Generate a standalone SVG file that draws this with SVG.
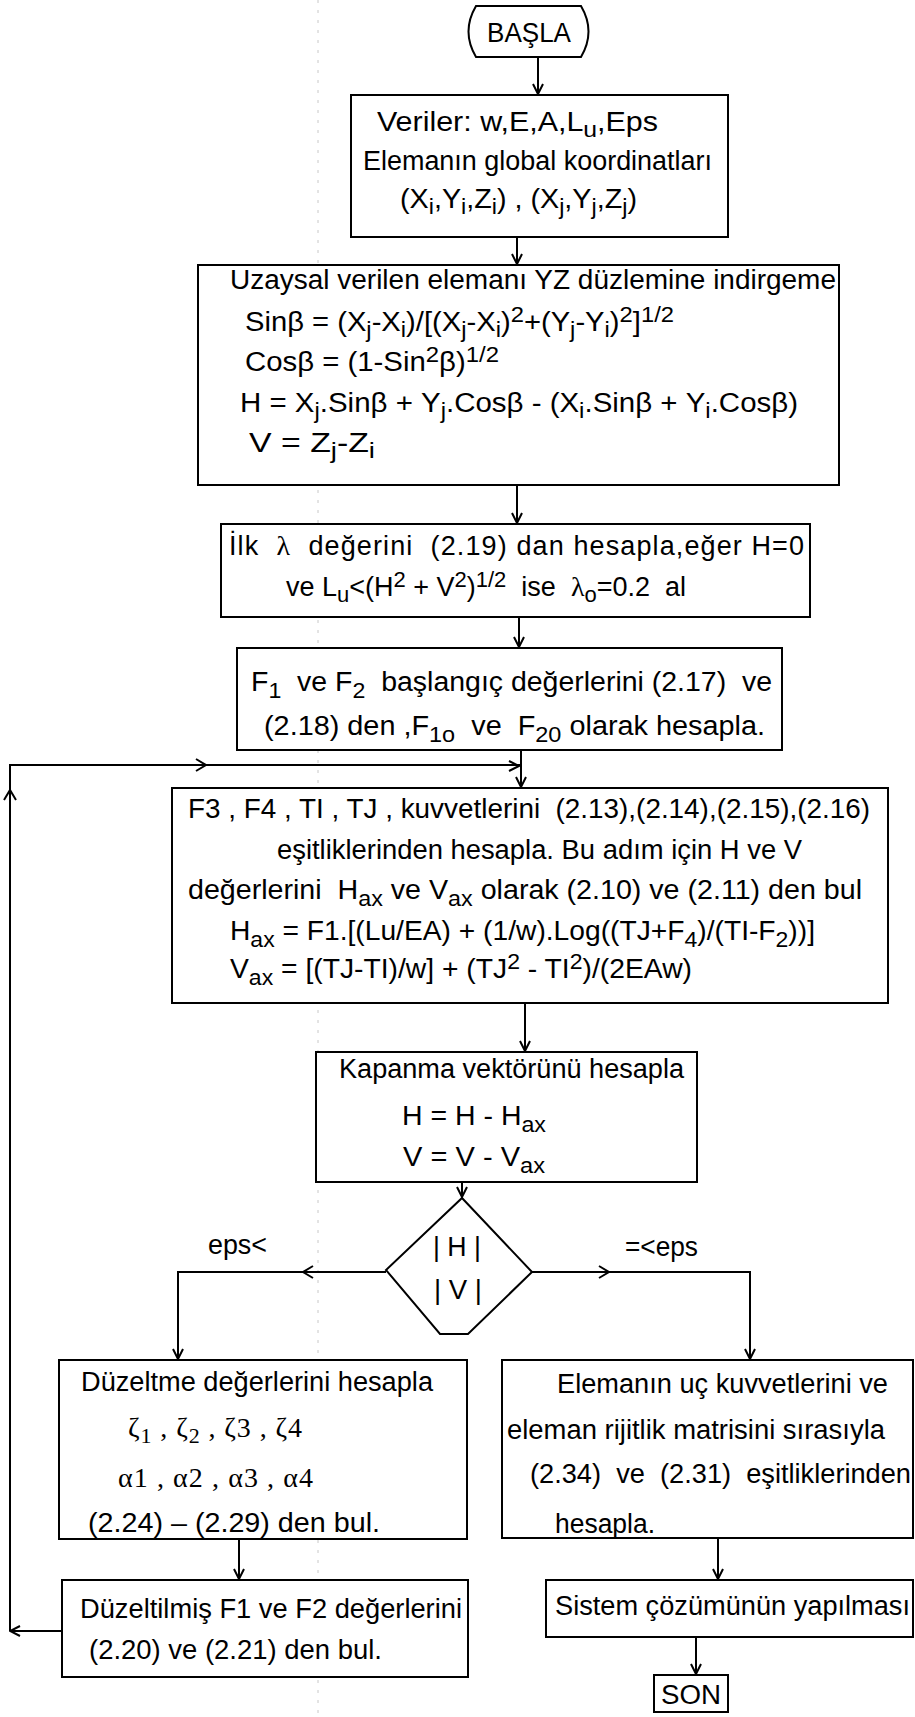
<svg xmlns="http://www.w3.org/2000/svg" width="915" height="1717" viewBox="0 0 915 1717">
<style>
.box{fill:#fff;stroke:#000;stroke-width:2}
.t{font-family:"Liberation Sans",Arial,sans-serif;font-size:27px;fill:#000}
.s{font-family:"Liberation Serif","Times New Roman",serif;font-size:28px;fill:#000}
.b{font-size:22px}
.ln{fill:none;stroke:#000;stroke-width:2}
.hd{fill:none;stroke:#000;stroke-width:2;stroke-linejoin:miter}
.fold{fill:none;stroke:#c8c8c8;stroke-width:1;stroke-dasharray:3 7}
</style>
<defs>
<marker id="ah" viewBox="0 0 12 12" refX="11" refY="6" markerWidth="12" markerHeight="12" markerUnits="userSpaceOnUse" orient="auto">
<path d="M1,1 L11,6 L1,11" fill="none" stroke="#000" stroke-width="2"/>
</marker>
</defs>
<rect width="915" height="1717" fill="#fff"/>
<line class="fold" x1="318" y1="0" x2="318" y2="1717"/>

<g id="connectors">
<path class="ln" d="M538,57 V94" marker-end="url(#ah)"/>
<path class="ln" d="M517,237 V264" marker-end="url(#ah)"/>
<path class="ln" d="M517,485 V523" marker-end="url(#ah)"/>
<path class="ln" d="M519,617 V647" marker-end="url(#ah)"/>
<path class="ln" d="M521,750 V787" marker-end="url(#ah)"/>
<path class="ln" d="M525,1003 V1051" marker-end="url(#ah)"/>
<path class="ln" d="M462,1182 V1197" marker-end="url(#ah)"/>
<path class="ln" d="M386,1272 H178 V1359" marker-end="url(#ah)"/>
<path class="hd" d="M313,1266 L303,1272 L313,1278"/>
<path class="ln" d="M532,1272 H750 V1359" marker-end="url(#ah)"/>
<path class="hd" d="M599,1266 L609,1272 L599,1278"/>
<path class="ln" d="M239,1539 V1579" marker-end="url(#ah)"/>
<path class="ln" d="M718,1538 V1579" marker-end="url(#ah)"/>
<path class="ln" d="M696,1637 V1674" marker-end="url(#ah)"/>
<path class="ln" d="M62,1631 H10" marker-end="url(#ah)"/>
<path class="ln" d="M10,1631 V765 H521"/>
<path class="hd" d="M4,800 L10,790 L16,800"/>
<path class="hd" d="M196,759 L206,765 L196,771"/>
<path class="hd" d="M509,761 L519,766 L509,771"/>
</g>

<g id="basla">
<path class="box" d="M476,6 H581 Q596,31.5 581,57 H476 Q461,31.5 476,6 Z"/>
<text class="t" x="487" y="42" textLength="84" lengthAdjust="spacingAndGlyphs">BAŞLA</text>
</g>

<g id="veriler">
<rect class="box" x="351" y="95" width="377" height="142"/>
<text class="t" x="377" y="131" textLength="281" lengthAdjust="spacingAndGlyphs">Veriler: w,E,A,L<tspan class="b" dy="6">u</tspan><tspan dy="-6">,Eps</tspan></text>
<text class="t" x="363" y="170" textLength="349" lengthAdjust="spacingAndGlyphs">Elemanın global koordinatları</text>
<text class="t" x="400" y="208" textLength="237" lengthAdjust="spacingAndGlyphs">(X<tspan class="b" dy="6">i</tspan><tspan dy="-6">,Y</tspan><tspan class="b" dy="6">i</tspan><tspan dy="-6">,Z</tspan><tspan class="b" dy="6">i</tspan><tspan dy="-6">) , (X</tspan><tspan class="b" dy="6">j</tspan><tspan dy="-6">,Y</tspan><tspan class="b" dy="6">j</tspan><tspan dy="-6">,Z</tspan><tspan class="b" dy="6">j</tspan><tspan dy="-6">)</tspan></text>
</g>

<g id="uzaysal">
<rect class="box" x="198" y="265" width="641" height="220"/>
<text class="t" x="230" y="289" textLength="606" lengthAdjust="spacingAndGlyphs">Uzaysal verilen elemanı YZ düzlemine indirgeme</text>
<text class="t" x="245" y="331" textLength="429" lengthAdjust="spacingAndGlyphs">Sinβ = (X<tspan class="b" dy="6">j</tspan><tspan dy="-6">-X</tspan><tspan class="b" dy="6">i</tspan><tspan dy="-6">)/[(X</tspan><tspan class="b" dy="6">j</tspan><tspan dy="-6">-X</tspan><tspan class="b" dy="6">i</tspan><tspan dy="-6">)</tspan><tspan class="b" dy="-9">2</tspan><tspan dy="9">+(Y</tspan><tspan class="b" dy="6">j</tspan><tspan dy="-6">-Y</tspan><tspan class="b" dy="6">i</tspan><tspan dy="-6">)</tspan><tspan class="b" dy="-9">2</tspan><tspan dy="9">]</tspan><tspan class="b" dy="-9">1/2</tspan></text>
<text class="t" x="245" y="371" textLength="254" lengthAdjust="spacingAndGlyphs">Cosβ = (1-Sin<tspan class="b" dy="-9">2</tspan><tspan dy="9">β)</tspan><tspan class="b" dy="-9">1/2</tspan></text>
<text class="t" x="240" y="412" textLength="558" lengthAdjust="spacingAndGlyphs">H = X<tspan class="b" dy="6">j</tspan><tspan dy="-6">.Sinβ + Y</tspan><tspan class="b" dy="6">j</tspan><tspan dy="-6">.Cosβ - (X</tspan><tspan class="b" dy="6">i</tspan><tspan dy="-6">.Sinβ + Y</tspan><tspan class="b" dy="6">i</tspan><tspan dy="-6">.Cosβ)</tspan></text>
<text class="t" x="249" y="452" textLength="126" lengthAdjust="spacingAndGlyphs">V = Z<tspan class="b" dy="6">j</tspan><tspan dy="-6">-Z</tspan><tspan class="b" dy="6">i</tspan></text>
</g>

<g id="ilk">
<rect class="box" x="221" y="524" width="589" height="93"/>
<text class="t" x="229" y="555" textLength="575" xml:space="preserve">İlk  <tspan class="s">λ</tspan>  değerini  (2.19) dan hesapla,eğer H=0</text>
<text class="t" x="286" y="596" textLength="400" lengthAdjust="spacingAndGlyphs" xml:space="preserve">ve L<tspan class="b" dy="6">u</tspan><tspan dy="-6">&lt;(H</tspan><tspan class="b" dy="-9">2</tspan><tspan dy="9"> + V</tspan><tspan class="b" dy="-9">2</tspan><tspan dy="9">)</tspan><tspan class="b" dy="-9">1/2</tspan><tspan dy="9">  ise  </tspan><tspan class="s">λ</tspan><tspan class="b" dy="6">o</tspan><tspan dy="-6">=0.2  al</tspan></text>
</g>

<g id="f1f2">
<rect class="box" x="237" y="648" width="545" height="102"/>
<text class="t" x="251" y="691" textLength="521" lengthAdjust="spacingAndGlyphs" xml:space="preserve">F<tspan class="b" dy="7">1</tspan><tspan dy="-7">  ve F</tspan><tspan class="b" dy="7">2</tspan><tspan dy="-7">  başlangıç değerlerini (2.17)  ve</tspan></text>
<text class="t" x="264" y="735" textLength="501" lengthAdjust="spacingAndGlyphs" xml:space="preserve">(2.18) den ,F<tspan class="b" dy="7">1o</tspan><tspan dy="-7">  ve  F</tspan><tspan class="b" dy="7">20</tspan><tspan dy="-7"> olarak hesapla.</tspan></text>
</g>

<g id="f3f4">
<rect class="box" x="172" y="788" width="716" height="215"/>
<text class="t" x="188" y="818" textLength="682" lengthAdjust="spacingAndGlyphs" xml:space="preserve">F3 , F4 , TI , TJ , kuvvetlerini  (2.13),(2.14),(2.15),(2.16)</text>
<text class="t" x="277" y="859" textLength="525" lengthAdjust="spacingAndGlyphs">eşitliklerinden hesapla. Bu adım için H ve V</text>
<text class="t" x="188" y="899" textLength="674" lengthAdjust="spacingAndGlyphs" xml:space="preserve">değerlerini  H<tspan class="b" dy="7">ax</tspan><tspan dy="-7"> ve V</tspan><tspan class="b" dy="7">ax</tspan><tspan dy="-7"> olarak (2.10) ve (2.11) den bul</tspan></text>
<text class="t" x="230" y="940" textLength="585" lengthAdjust="spacingAndGlyphs">H<tspan class="b" dy="7">ax</tspan><tspan dy="-7"> = F1.[(Lu/EA) + (1/w).Log((TJ+F</tspan><tspan class="b" dy="7">4</tspan><tspan dy="-7">)/(TI-F</tspan><tspan class="b" dy="7">2</tspan><tspan dy="-7">))]</tspan></text>
<text class="t" x="230" y="978" textLength="462" lengthAdjust="spacingAndGlyphs">V<tspan class="b" dy="7">ax</tspan><tspan dy="-7"> = [(TJ-TI)/w] + (TJ</tspan><tspan class="b" dy="-9">2</tspan><tspan dy="9"> - TI</tspan><tspan class="b" dy="-9">2</tspan><tspan dy="9">)/(2EAw)</tspan></text>
</g>

<g id="kapanma">
<rect class="box" x="316" y="1052" width="381" height="130"/>
<text class="t" x="339" y="1078" textLength="345" lengthAdjust="spacingAndGlyphs">Kapanma vektörünü hesapla</text>
<text class="t" x="402" y="1125" textLength="144" lengthAdjust="spacingAndGlyphs">H = H - H<tspan class="b" dy="7">ax</tspan></text>
<text class="t" x="403" y="1166" textLength="142" lengthAdjust="spacingAndGlyphs">V = V - V<tspan class="b" dy="7">ax</tspan></text>
</g>

<g id="karar">
<path class="box" d="M462,1198 L532,1272 L468,1334 L440,1334 L386,1270 Z"/>
<text class="t" x="433" y="1256" textLength="48" lengthAdjust="spacingAndGlyphs" xml:space="preserve">| H |</text>
<text class="t" x="434" y="1299" textLength="48" lengthAdjust="spacingAndGlyphs" xml:space="preserve">| V |</text>
</g>

<g id="labels">
<text class="t" x="208" y="1254" textLength="59" lengthAdjust="spacingAndGlyphs">eps&lt;</text>
<text class="t" x="625" y="1256" textLength="73" lengthAdjust="spacingAndGlyphs">=&lt;eps</text>
</g>

<g id="duzeltme">
<rect class="box" x="59" y="1360" width="408" height="179"/>
<text class="t" x="81" y="1391" textLength="352" lengthAdjust="spacingAndGlyphs">Düzeltme değerlerini hesapla</text>
<text class="s" x="128" y="1437" textLength="174">ζ<tspan class="b" dy="6">1</tspan><tspan dy="-6"> , ζ</tspan><tspan class="b" dy="6">2</tspan><tspan dy="-6"> , ζ3 , ζ4</tspan></text>
<text class="s" x="118" y="1487" textLength="195">α1 , α2 , α3 , α4</text>
<text class="t" x="88" y="1532" textLength="292" lengthAdjust="spacingAndGlyphs">(2.24) – (2.29) den bul.</text>
</g>

<g id="duzeltilmis">
<rect class="box" x="62" y="1580" width="406" height="97"/>
<text class="t" x="80" y="1618" textLength="382" lengthAdjust="spacingAndGlyphs">Düzeltilmiş F1 ve F2 değerlerini</text>
<text class="t" x="89" y="1659" textLength="293" lengthAdjust="spacingAndGlyphs">(2.20) ve (2.21) den bul.</text>
</g>

<g id="elemanin">
<rect class="box" x="502" y="1360" width="411" height="178"/>
<text class="t" x="557" y="1393" textLength="331" lengthAdjust="spacingAndGlyphs">Elemanın uç kuvvetlerini ve</text>
<text class="t" x="507" y="1439" textLength="378" lengthAdjust="spacingAndGlyphs">eleman rijitlik matrisini sırasıyla</text>
<text class="t" x="530" y="1483" textLength="381" lengthAdjust="spacingAndGlyphs" xml:space="preserve">(2.34)  ve  (2.31)  eşitliklerinden</text>
<text class="t" x="555" y="1533" textLength="100" lengthAdjust="spacingAndGlyphs">hesapla.</text>
</g>

<g id="sistem">
<rect class="box" x="546" y="1580" width="367" height="57"/>
<text class="t" x="555" y="1615" textLength="355" lengthAdjust="spacingAndGlyphs">Sistem çözümünün yapılması</text>
</g>

<g id="son">
<rect class="box" x="654" y="1675" width="74" height="37"/>
<text class="t" x="661" y="1704" textLength="60" lengthAdjust="spacingAndGlyphs">SON</text>
</g>
</svg>
